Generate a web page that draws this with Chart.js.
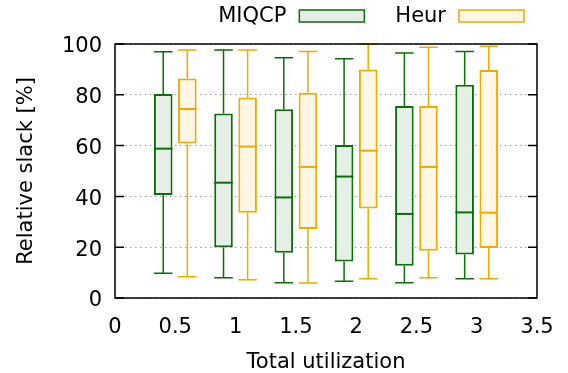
<!DOCTYPE html>
<html>
<head>
<meta charset="utf-8">
<script src="https://cdn.jsdelivr.net/npm/chart.js@4"></script>
<style>
  html, body { margin: 0; padding: 0; background: #fff; }
  #wrap { width: 568px; height: 373px; }
</style>
</head>
<body>
<div id="wrap"><canvas id="c"></canvas></div>
<script>
// x positions (total utilization)
const utils = [0.5, 1, 1.5, 2, 2.5, 3];
const seriesNames = ['MIQCP', 'Heur'];

// box plot stats
const miqcpMin = [9.7, 8.0, 6.0, 6.6, 6.0, 7.6];
const miqcpQ1  = [40.6, 20.0, 17.8, 14.4, 12.7, 17.1];
const miqcpMed = [58.8, 45.4, 39.6, 47.8, 33.1, 33.7];
const miqcpQ3  = [80.3, 72.6, 74.3, 60.2, 75.6, 84.0];
const miqcpMax = [96.9, 97.6, 94.6, 94.2, 96.5, 97.0];

const heurMin = [8.4, 7.2, 5.9, 7.6, 8.0, 7.6];
const heurQ1  = [60.8, 33.6, 27.2, 35.2, 18.6, 19.7];
const heurMed = [74.4, 59.6, 51.6, 58.0, 51.6, 33.6];
const heurQ3  = [86.4, 78.9, 80.8, 90.0, 75.6, 89.8];
const heurMax = [97.6, 97.6, 97.0, 99.9, 98.7, 99.1];

const yTicks = [0, 20, 40, 60, 80, 100];

const green = '#0b6e0b', greenFill = '#e5efe5';
const orange = '#f2a900', orangeFill = '#fff6e6';
const FONT = "'DejaVu Sans', sans-serif";
const FS = 21;

const stats = [
  { min: miqcpMin, med: miqcpMed, max: miqcpMax },
  { min: heurMin, med: heurMed, max: heurMax }
];

// whiskers + medians + frame + legend (text left of the key box, gnuplot style)
const boxExtras = {
  id: 'boxExtras',
  afterDatasetsDraw(chart) {
    const ctx = chart.ctx;
    const y = chart.scales.y;
    ctx.save();
    chart.data.datasets.forEach((ds, i) => {
      const meta = chart.getDatasetMeta(i);
      const s = stats[i];
      ctx.strokeStyle = ds.borderColor;
      ctx.lineWidth = 1.5;
      meta.data.forEach((bar, j) => {
        const x = bar.x, hw = bar.width / 2;
        const q1 = y.getPixelForValue(ds.data[j].y[0]);
        const q3 = y.getPixelForValue(ds.data[j].y[1]);
        const lo = y.getPixelForValue(s.min[j]);
        const hi = y.getPixelForValue(s.max[j]);
        const md = y.getPixelForValue(s.med[j]);
        ctx.beginPath();
        ctx.moveTo(x, q3); ctx.lineTo(x, hi);
        ctx.moveTo(x, q1); ctx.lineTo(x, lo);
        ctx.moveTo(x - hw, hi); ctx.lineTo(x + hw, hi);
        ctx.moveTo(x - hw, lo); ctx.lineTo(x + hw, lo);
        ctx.stroke();
        ctx.lineWidth = 2;
        ctx.beginPath();
        ctx.moveTo(x - hw, md); ctx.lineTo(x + hw, md);
        ctx.stroke();
        ctx.lineWidth = 1.5;
      });
    });
    // frame and inward ticks on both sides
    const a = chart.chartArea;
    ctx.strokeStyle = '#000';
    ctx.lineWidth = 1.5;
    ctx.strokeRect(a.left, a.top, a.right - a.left, a.bottom - a.top);
    ctx.beginPath();
    yTicks.forEach(v => {
      const py = y.getPixelForValue(v);
      ctx.moveTo(a.left, py); ctx.lineTo(a.left + 9, py);
      ctx.moveTo(a.right, py); ctx.lineTo(a.right - 9, py);
    });
    ctx.stroke();

    // legend, laid out right to left
    ctx.font = FS + 'px ' + FONT;
    ctx.textAlign = 'right';
    ctx.textBaseline = 'middle';
    let xr = 524;
    const ly = 16;
    for (let i = chart.data.datasets.length - 1; i >= 0; i--) {
      const ds = chart.data.datasets[i];
      ctx.fillStyle = ds.backgroundColor;
      ctx.fillRect(xr - 65, ly - 6, 65, 12);
      ctx.strokeStyle = ds.borderColor;
      ctx.lineWidth = 1.5;
      ctx.strokeRect(xr - 65, ly - 6, 65, 12);
      const tx = xr - 65 - 13;
      ctx.fillStyle = '#000';
      ctx.fillText(ds.label, tx, ly + 1);
      xr = tx - ctx.measureText(ds.label).width - 31;
    }
    ctx.restore();
  }
};

new Chart(document.getElementById('c').getContext('2d'), {
  type: 'bar',
  data: {
    datasets: [
      {
        label: seriesNames[0],
        data: utils.map((u, j) => ({ x: u, y: [miqcpQ1[j], miqcpQ3[j]] })),
        backgroundColor: greenFill,
        borderColor: green,
        borderWidth: 2,
        borderSkipped: false
      },
      {
        label: seriesNames[1],
        data: utils.map((u, j) => ({ x: u, y: [heurQ1[j], heurQ3[j]] })),
        backgroundColor: orangeFill,
        borderColor: orange,
        borderWidth: 2,
        borderSkipped: false
      }
    ]
  },
  options: {
    responsive: true,
    maintainAspectRatio: false,
    animation: false,
    categoryPercentage: 0.8,
    barPercentage: 0.77,
    layout: { padding: { left: 0, right: 31, top: 44, bottom: 0 } },
    plugins: {
      tooltip: { enabled: false },
      legend: { display: false }
    },
    scales: {
      x: {
        type: 'linear',
        min: 0,
        max: 3.5,
        offset: false,
        grid: { display: false, offset: false },
        border: { display: false },
        ticks: {
          stepSize: 0.5, color: '#000', padding: 9, maxRotation: 0,
          font: { family: FONT, size: FS },
          callback: v => String(v)
        },
        title: { display: true, text: 'Total utilization', color: '#000', font: { family: FONT, size: FS }, padding: { top: 0, bottom: -2 } },
        afterFit(scale) { scale.height = 75; }
      },
      y: {
        min: 0,
        max: 100,
        grid: { color: '#a0a0a0', lineWidth: 1, drawTicks: false },
        border: { display: false, dash: [1.5, 3.5] },
        ticks: { stepSize: 20, color: '#000', padding: 13, labelOffset: 3, font: { family: FONT, size: FS } },
        title: { display: true, text: 'Relative slack [%]', color: '#000', font: { family: FONT, size: FS }, padding: { top: 14, bottom: 0 } },
        afterFit(scale) { scale.width = 115; }
      }
    }
  },
  plugins: [boxExtras]
});
</script>
</body>
</html>
